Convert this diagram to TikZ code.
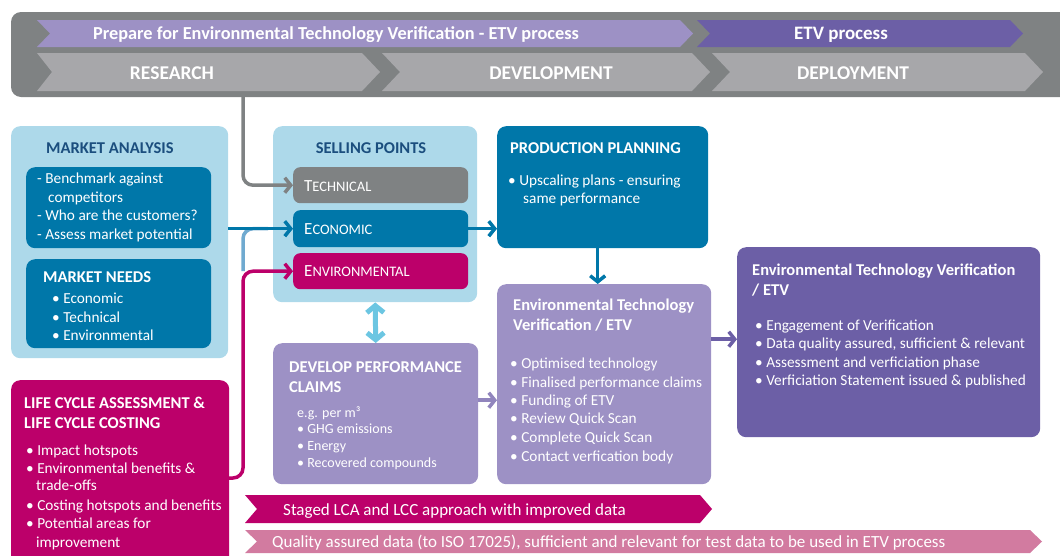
\documentclass[tikz,border=0pt]{standalone}
\usepackage{fontspec}
\setmainfont{Carlito}
\usetikzlibrary{arrows.meta}

\definecolor{bandgray}{HTML}{7F8283}
\definecolor{chevgray}{HTML}{A7A7AA}
\definecolor{lilac}{HTML}{9D91C5}
\definecolor{etvpurple}{HTML}{6C5FA6}
\definecolor{petrol}{HTML}{0077A9}
\definecolor{skyblue}{HTML}{ADD9EA}
\definecolor{navy}{HTML}{1B4E7E}
\definecolor{berry}{HTML}{BC006A}
\definecolor{rosepink}{HTML}{D27BA0}
\definecolor{iceblue}{HTML}{6CC6E2}
\definecolor{paleline}{HTML}{70AAD0}

\newcommand{\fakesc}[2]{{\fontsize{17}{18}\selectfont #1}{\fontsize{14.5}{16}\selectfont #2}}

\begin{document}
\begin{tikzpicture}[x=1pt, y=-1pt,
    box/.style={rounded corners=9pt, inner sep=0pt, anchor=north west},
    ttl/.style={font=\fontsize{16.5}{20}\selectfont\bfseries, text=white, anchor=base west, inner sep=0pt},
    txt/.style={font=\fontsize{15.3}{18}\selectfont, text=white, anchor=base west, inner sep=0pt},
    small/.style={font=\fontsize{14}{17}\selectfont, text=white, anchor=base west, inner sep=0pt},
    band/.style={font=\fontsize{18.3}{21}\selectfont\bfseries, text=white, anchor=base, inner sep=0pt},
    phase/.style={font=\fontsize{19.5}{22}\selectfont\bfseries, text=white, anchor=base, inner sep=0pt},
    conn/.style={line width=3.5pt, -{Straight Barb[length=6pt, width=15pt]}}]
    \path[use as bounding box] (0,0) rectangle (1060,555);
    \clip (0,0) rectangle (1060,555);
% Phase band
    \fill[bandgray, rounded corners=10pt] (11,12) rectangle (1075,97);
    \fill[lilac] (37,20) -- (680,20) -- (693,33.5) -- (680,47) -- (37,47) -- (50,33.5) -- cycle;
    \fill[etvpurple] (697,20) -- (1010,20) -- (1023,33.5) -- (1010,47) -- (697,47) -- (710,33.5) -- cycle;
    \fill[chevgray] (37,53) -- (362,53) -- (380,72) -- (362,91) -- (37,91) -- (52,72) -- cycle;
    \fill[chevgray] (382,53) -- (692,53) -- (710,72) -- (692,91) -- (382,91) -- (400,72) -- cycle;
    \fill[chevgray] (712,53) -- (1025,53) -- (1043,72) -- (1025,91) -- (712,91) -- (730,72) -- cycle;
    \node[band] (prepare) at (336,39) {Prepare for Environmental Technology Verification - ETV process};
    \node[band, font=\fontsize{19}{22}\selectfont\bfseries] (etvproc) at (841,39) {ETV process};
    \node[phase] (research) at (172,79) {RESEARCH};
    \node[phase] (development) at (551,79) {DEVELOPMENT};
    \node[phase] (deployment) at (853,79) {DEPLOYMENT};
% Boxes
    \node[box, fill=skyblue, minimum width=217pt, minimum height=232pt] (market) at (11,126) {};
    \node[box, fill=petrol, minimum width=185pt, minimum height=81pt] (analysis) at (26,167) {};
    \node[box, fill=petrol, minimum width=185pt, minimum height=89pt] (needs) at (26,259) {};
    \node[box, fill=skyblue, minimum width=204pt, minimum height=176pt] (selling) at (273,126) {};
    \node[box, fill=bandgray, minimum width=175pt, minimum height=36pt, rounded corners=7pt] (tech) at (293,167) {};
    \node[box, fill=petrol, minimum width=175pt, minimum height=37pt, rounded corners=7pt] (econ) at (293,210) {};
    \node[box, fill=berry, minimum width=175pt, minimum height=36pt, rounded corners=7pt] (envi) at (293,253) {};
    \node[box, fill=petrol, minimum width=211pt, minimum height=122pt] (plan) at (497,126) {};
    \node[box, fill=lilac, minimum width=214pt, minimum height=200pt] (etv) at (497,284) {};
    \node[box, fill=etvpurple, minimum width=303pt, minimum height=190pt] (verify) at (737,247) {};
    \node[box, fill=lilac, minimum width=205pt, minimum height=141pt] (claims) at (273,343) {};
    \node[box, fill=berry, minimum width=218pt, minimum height=200pt] (lca) at (11,380) {};
% Staged data arrows
    \fill[berry] (245,495) -- (700,495) -- (712,509) -- (700,523) -- (245,523) -- (257,509) -- cycle;
    \fill[rosepink] (245,530) -- (1030,530) -- (1042,541.5) -- (1030,553) -- (245,553) -- (257,541.5) -- cycle;
    \node[txt, font=\fontsize{17}{19}\selectfont] (staged) at (283,515) {Staged LCA and LCC approach with improved data};
    \node[txt, font=\fontsize{17}{19}\selectfont] (quality) at (272,547) {Quality assured data (to ISO 17025), sufficient and relevant for test data to be used in ETV process};
% Connectors
    \coordinate (drop) at (243,97);
    \coordinate (lcaout) at (229,478);
    \draw[conn, bandgray, rounded corners=10pt] (drop) |- (tech.west);
    \draw[line width=3.5pt, paleline, rounded corners=10pt] (drop |- envi.west) |- ([xshift=-25pt]econ.west);
    \draw[conn, petrol] (market.east |- econ.west) -- (econ.west);
    \draw[conn, berry, rounded corners=10pt] (lcaout) -| (drop |- envi.west) -- (envi.west);
    \draw[conn, petrol] (econ.east) -- (econ.east -| plan.west);
    \draw[conn, petrol] ([xshift=-5pt]plan.south) -- ([xshift=-5pt]plan.south |- etv.north);
    \draw[conn, lilac!75!etvpurple] ([yshift=13.5pt]claims.east) -- ([yshift=13.5pt]claims.east -| etv.west);
    \draw[conn, etvpurple] ([yshift=45pt]etv.east) -- ([yshift=45pt]etv.east -| verify.west);
    \draw[line width=5pt, iceblue, {Straight Barb[length=7pt, width=17pt]}-{Straight Barb[length=7pt, width=17pt]}] (selling.south) -- (claims.north);
% Market analysis
    \node[ttl, text=navy] (market-t) at (46,153) {MARKET ANALYSIS};
    \foreach \xx/\yy/\txt [count=\i] in {37/183/{- Benchmark against}, 48/202/competitors, 37/220/{- Who are the customers?}, 37/239/{- Assess market potential}}
        \node[txt] (analysis-\i) at (\xx,\yy) {\txt};
    \node[ttl] (needs-t) at (43,282) {MARKET NEEDS};
    \foreach \yy/\txt [count=\i] in {303/Economic, 322/Technical, 340/Environmental}
        \node[txt] (needs-\i) at (52,\yy) {• \txt};
% Selling points
    \node[ttl, text=navy, anchor=base] (selling-t) at (371,153) {SELLING POINTS};
    \node[txt] (tech-t) at (304,191) {\fakesc{T}{ECHNICAL}};
    \node[txt] (econ-t) at (304,234) {\fakesc{E}{CONOMIC}};
    \node[txt] (envi-t) at (304,276) {\fakesc{E}{NVIRONMENTAL}};
% Production planning
    \node[ttl] (plan-t) at (510,153) {PRODUCTION PLANNING};
    \node[txt] (plan-1) at (508,185) {• Upscaling plans - ensuring};
    \node[txt] (plan-2) at (523,203) {same performance};
% ETV preparation
    \node[ttl] (etv-t1) at (513,310) {Environmental Technology};
    \node[ttl] (etv-t2) at (513,330) {Verification / ETV};
    \foreach \yy/\txt [count=\i] in {368/Optimised technology, 387/Finalised performance claims, 405/Funding of ETV, 423/Review Quick Scan, 442/Complete Quick Scan, 461/Contact verfication body}
        \node[txt] (etv-\i) at (510,\yy) {• \txt};
% ETV
    \node[ttl] (verify-t1) at (752,275) {Environmental Technology Verification};
    \node[ttl] (verify-t2) at (752,295) {/ ETV};
    \foreach \yy/\txt [count=\i] in {330/Engagement of Verification, 348/{Data quality assured, sufficient \& relevant}, 367/Assessment and verficiation phase, 385/{Verficiation Statement issued \& published}}
        \node[txt] (verify-\i) at (755,\yy) {• \txt};
% Performance claims
    \node[ttl] (claims-t1) at (289,372) {DEVELOP PERFORMANCE};
    \node[ttl] (claims-t2) at (289,392) {CLAIMS};
    \node[small] (claims-0) at (297,417) {e.g. per m³};
    \foreach \yy/\txt [count=\i] in {433/GHG emissions, 450/Energy, 467/Recovered compounds}
        \node[small] (claims-\i) at (297,\yy) {• \txt};
% LCA and LCC
    \node[ttl] (lca-t1) at (24,408) {LIFE CYCLE ASSESSMENT \&};
    \node[ttl] (lca-t2) at (24,428) {LIFE CYCLE COSTING};
    \foreach \xx/\yy/\txt [count=\i] in {26/455/{• Impact hotspots}, 26/473/{• Environmental benefits \&}, 36/490/trade-offs, 26/510/{• Costing hotspots and benefits}, 26/528/{• Potential areas for}, 36/547/improvement}
        \node[txt] (lca-\i) at (\xx,\yy) {\txt};
\end{tikzpicture}
\end{document}
